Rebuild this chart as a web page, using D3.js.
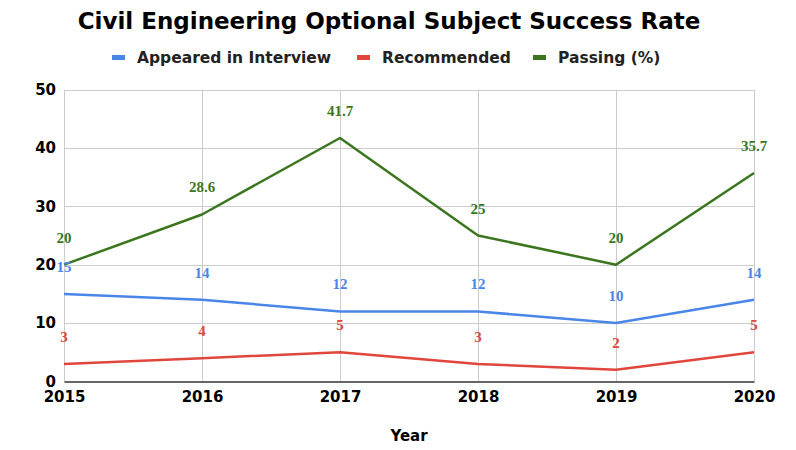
<!DOCTYPE html>
<html><head><meta charset="utf-8">
<script src="https://cdn.jsdelivr.net/npm/d3@7/dist/d3.min.js"></script>
<style>
body{margin:0;background:#fff;}
svg{display:block;}
</style></head>
<body><svg id="chart" width="796" height="450"></svg>
<script>
const years = ["2015","2016","2017","2018","2019","2020"];
const appeared = [15,14,12,12,10,14];
const recommended = [3,4,5,3,2,5];
const passing = [20,28.6,41.7,25,20,35.7];
const yTicks = [0,10,20,30,40,50];
const seriesNames = ["Appeared in Interview","Recommended","Passing (%)"];
const seriesColors = ["#4a86e8","#e0463b","#3b761f"];
const seriesValues = [appeared, recommended, passing];

const svg = d3.select("#chart");
const sans = "'DejaVu Sans', Verdana, sans-serif";
const serif = "'Liberation Serif', 'Times New Roman', serif";

const x = d3.scalePoint().domain(years).range([64, 754]);
const y = d3.scaleLinear().domain([0, 50]).range([381.5, 89.5]);

// gridlines
const g = svg.append("g");
g.selectAll("line.h").data(yTicks.filter(d=>d>0)).join("line")
  .attr("x1", 64).attr("x2", 754)
  .attr("y1", d=>Math.round(y(d))+0.5).attr("y2", d=>Math.round(y(d))+0.5)
  .attr("stroke", "#cccccc").attr("stroke-width", 1);
g.selectAll("line.v").data(years).join("line")
  .attr("x1", d=>Math.round(x(d))+0.5).attr("x2", d=>Math.round(x(d))+0.5)
  .attr("y1", y(50)).attr("y2", y(0))
  .attr("stroke", "#cccccc").attr("stroke-width", 1);

// y axis labels
const yAxis = d3.axisLeft(y).tickValues(yTicks).tickSize(0).tickPadding(8);
svg.append("g").attr("transform","translate(64,0)").call(yAxis)
  .call(s=>s.select(".domain").remove())
  .selectAll("text").attr("font-family", sans).attr("font-weight","bold")
  .attr("font-size", 15).attr("fill","#000");

// x axis
const xAxis = d3.axisBottom(x).tickSize(0).tickPadding(10);
svg.append("g").attr("transform",`translate(0,${y(0)})`).call(xAxis)
  .call(s=>s.select(".domain").attr("stroke","#333").attr("stroke-width",1.5))
  .selectAll("text").attr("font-family", sans).attr("font-weight","bold")
  .attr("font-size", 15).attr("fill","#000");

// lines
const line = d3.line().x((d,i)=>x(years[i])).y(d=>y(d));
seriesValues.forEach((vals, k)=>{
  svg.append("path").datum(vals).attr("d", line)
    .attr("fill","none").attr("stroke", seriesColors[k]).attr("stroke-width", 2.5)
    .attr("stroke-linejoin","round");
});

// value labels
seriesValues.forEach((vals, k)=>{
  svg.append("g").selectAll("text").data(vals).join("text")
    .attr("x",(d,i)=>x(years[i])).attr("y", d=>y(d)-22)
    .attr("text-anchor","middle")
    .attr("font-family", serif).attr("font-weight","bold").attr("font-size",15)
    .attr("fill", seriesColors[k]).text(d=>d);
});

// title
svg.append("text").attr("x", 389).attr("y", 29).attr("text-anchor","middle")
  .attr("font-family", sans).attr("font-weight","bold").attr("font-size", 23)
  .attr("fill","#000").text("Civil Engineering Optional Subject Success Rate");

// legend
const legendX = [112, 357, 533];
const lg = svg.append("g");
seriesNames.forEach((n,k)=>{
  lg.append("rect").attr("x", legendX[k]).attr("y", 55).attr("width", 13).attr("height", 5)
    .attr("fill", seriesColors[k]);
  lg.append("text").attr("x", legendX[k]+25).attr("y", 63)
    .attr("font-family", sans).attr("font-weight","bold").attr("font-size", 15.5)
    .attr("fill","#222").text(n);
});

// x axis title
svg.append("text").attr("x", 409).attr("y", 441).attr("text-anchor","middle")
  .attr("font-family", sans).attr("font-weight","bold").attr("font-size", 15)
  .attr("fill","#000").text("Year");
</script></body></html>
